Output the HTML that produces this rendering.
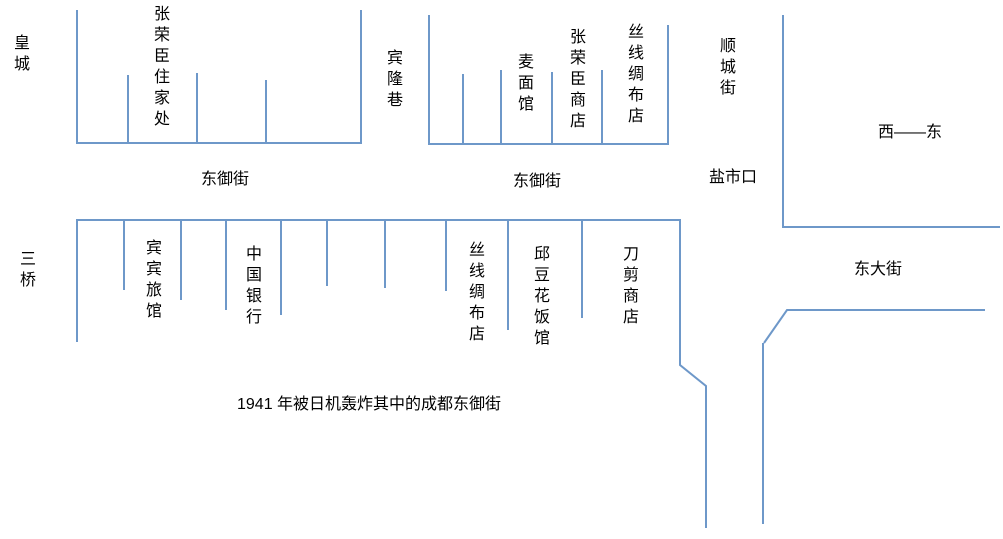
<!DOCTYPE html>
<html><head><meta charset="utf-8"><style>
body{margin:0;width:1003px;height:539px;background:#fff;position:relative;overflow:hidden;font-family:"Liberation Sans","Noto Sans CJK SC",sans-serif;font-size:16px;color:#000}
.t{position:absolute;line-height:21px;white-space:nowrap}
.v{width:16px;text-align:center;word-break:break-all;white-space:normal}
svg{position:absolute;left:0;top:0}
</style></head><body>
<svg width="1003" height="539"><g stroke="#6e98c9" stroke-width="2" fill="none">
<path d="M77 10V143H361V10M128 75V143M197 73V143M266 80V143"/>
<path d="M429 15V144H668V25M463 74V144M501 70V144M552 72V144M602 70V144"/>
<path d="M77 342V220H680V365L706 386V528M124 220V290M181 220V300M226 220V310M281 220V315M327 220V286M385 220V288M446 220V291M508 220V330M582 220V318"/>
<path d="M783 15V228M783 227H1000"/>
<path d="M985 310H787L764 343M763 343V524"/>
</g></svg>
<div class="t v" style="left:14px;top:33px">皇城</div>
<div class="t v" style="left:154px;top:4px">张荣臣住家处</div>
<div class="t v" style="left:387px;top:48px">宾隆巷</div>
<div class="t v" style="left:518px;top:52px">麦面馆</div>
<div class="t v" style="left:570px;top:27px">张荣臣商店</div>
<div class="t v" style="left:628px;top:22px">丝线绸布店</div>
<div class="t v" style="left:720px;top:36px">顺城街</div>
<div class="t" style="left:201px;top:169px">东御街</div>
<div class="t" style="left:513px;top:171px">东御街</div>
<div class="t" style="left:709px;top:167px">盐市口</div>
<div class="t" style="left:878px;top:122px">西——东</div>
<div class="t v" style="left:20px;top:249px">三桥</div>
<div class="t v" style="left:146px;top:238px">宾宾旅馆</div>
<div class="t v" style="left:246px;top:244px">中国银行</div>
<div class="t v" style="left:469px;top:240px">丝线绸布店</div>
<div class="t v" style="left:534px;top:244px">邱豆花饭馆</div>
<div class="t v" style="left:623px;top:244px">刀剪商店</div>
<div class="t" style="left:854px;top:259px">东大街</div>
<div class="t" style="left:237px;top:394px;font-size:16px">1941 年被日机轰炸其中的成都东御街</div>
</body></html>
